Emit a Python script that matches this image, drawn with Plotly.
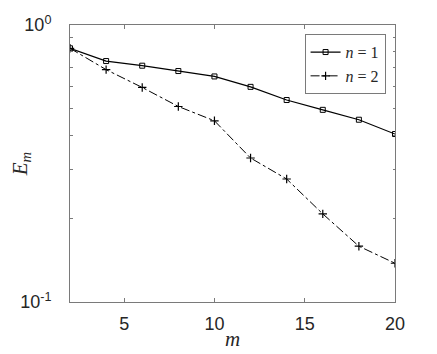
import plotly.graph_objs as go

# values
m = [2, 4, 6, 8, 10, 12, 14, 16, 18, 20]
e_n1 = [0.824, 0.741, 0.713, 0.682, 0.652, 0.598, 0.536, 0.494, 0.455, 0.404]
e_n2 = [0.824, 0.690, 0.595, 0.508, 0.451, 0.331, 0.278, 0.208, 0.159, 0.138]
y_ticks = [0.1, 1]
y_ticktext = ['10<sup>-1</sup>', '10<sup>0</sup>']
y_minor = [0.2, 0.3, 0.4, 0.5, 0.6, 0.7, 0.8, 0.9]
x_ticks = [5, 10, 15, 20]

axis_color = '#7a7a7a'
tick_font = dict(family='Liberation Sans', size=18, color='#262626')
serif = 'Liberation Serif'

fig = go.Figure(
    data=[
        go.Scatter(
            x=m, y=e_n1,
            mode='lines+markers',
            name='<i>n</i> = 1',
            line=dict(color='black', width=1.2),
            marker=dict(symbol='square-open', size=5, color='black', line=dict(width=1))
        ),
        go.Scatter(
            x=m, y=e_n2,
            mode='lines+markers',
            name='<i>n</i> = 2',
            line=dict(color='black', width=1, dash='dashdot'),
            marker=dict(symbol='cross-thin-open', size=6, color='black', line=dict(width=1.2, color='black'))
        ),
    ]
)

# page body adds an 8px offset, so the figure is a bit smaller than the window
fig.update_layout(
    width=429, height=343,
    margin=dict(l=62, r=42, t=17, b=49, autoexpand=False),
    paper_bgcolor='white',
    plot_bgcolor='white',
    showlegend=True,
    legend=dict(
        x=0.971, y=0.967, xanchor='right', yanchor='top',
        bordercolor=axis_color, borderwidth=1, bgcolor='white',
        font=dict(family=serif, size=16, color='#262626'),
        tracegroupgap=0, itemwidth=30,
    ),
)

fig.update_xaxes(
    range=[2, 20], automargin=False,
    tickmode='array', tickvals=x_ticks,
    ticks='inside', ticklen=4, tickcolor=axis_color,
    showline=True, linecolor=axis_color, linewidth=1, mirror='ticks',
    showgrid=False, zeroline=False,
    tickfont=tick_font, ticklabelstandoff=5,
    title=dict(text='<i>m</i>', font=dict(family=serif, size=21, color='#262626'), standoff=0),
)

fig.update_yaxes(
    type='log', range=[-1, 0], automargin=False,
    tickmode='array', tickvals=y_ticks, ticktext=y_ticktext,
    ticks='inside', ticklen=4, tickcolor=axis_color,
    minor=dict(tickvals=y_minor, ticks='inside', ticklen=2.5, tickcolor=axis_color, showgrid=False),
    showline=True, linecolor=axis_color, linewidth=1, mirror='ticks',
    showgrid=False, zeroline=False,
    tickfont=tick_font, ticklabelstandoff=14,
    title=dict(text='<i>E<sub>m</sub></i>', font=dict(family=serif, size=21, color='#262626'), standoff=0),
)

fig.write_html('out.html')
